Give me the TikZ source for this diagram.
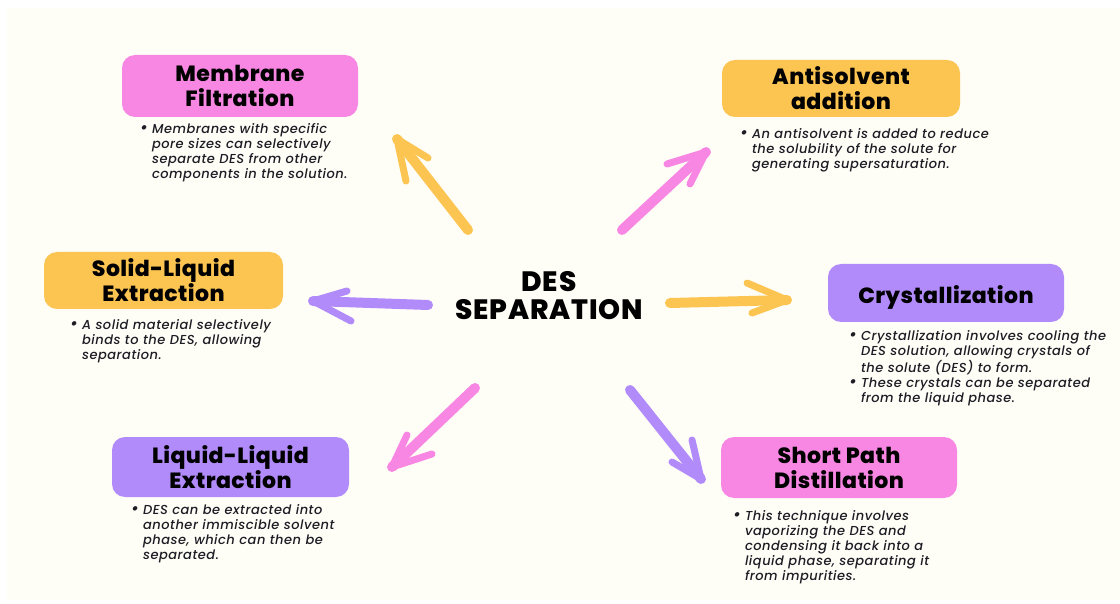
\documentclass[tikz,border=0pt]{standalone}
\usepackage{fontspec}
\setmainfont{Poppins}
\newfontfamily\titlefont{Poppins ExtraBold}[LetterSpace=2]
\newfontfamily\centerfont{Poppins ExtraBold}[LetterSpace=3]
\newfontfamily\bodyfont{Poppins Medium Italic}[LetterSpace=4]
\definecolor{bgc}{HTML}{FEFDF6}
\definecolor{pinkc}{HTML}{F887E4}
\definecolor{yellowc}{HTML}{FCC552}
\definecolor{purplec}{HTML}{B28BFB}
\definecolor{txtc}{HTML}{1C1C24}
\newcommand{\bodyset}{\bodyfont\fontsize{13}{15}\selectfont}
\newcommand{\bul}{{\fontsize{17}{15}\selectfont\textbullet}}
\begin{document}
\begin{tikzpicture}[x=1pt,y=-1pt,
  titlebox/.style={rounded corners=13pt, inner sep=0pt, align=center,
    font=\titlefont\fontsize{22}{25}\selectfont, text=black},
  bodytext/.style={anchor=base west, inner sep=0pt, text=txtc, font=\bodyset},
  shaft/.style={line width=10pt, line cap=round, line join=round},
  wing/.style={line width=7pt, line cap=round, line join=round}]
\useasboundingbox (0,0) rectangle (1120,604);
\fill[white] (0,0) rectangle (1120,604);
\fill[bgc] (7,8) rectangle (1120,600);

% boxes
\node[titlebox, fill=pinkc, minimum width=236pt, minimum height=62pt] (mf) at (240,86) {Membrane\\Filtration};
\node[titlebox, fill=yellowc, minimum width=238pt, minimum height=57pt] (aa) at (841,88.5) {Antisolvent\\addition};
\node[titlebox, fill=yellowc, minimum width=239pt, minimum height=57pt] (sl) at (163.5,280.5) {Solid-Liquid\\Extraction};
\node[titlebox, fill=purplec, minimum width=236pt, minimum height=58pt, text depth=0pt] (cr) at (946,293) {\raisebox{-3pt}{Crystallization}};
\node[titlebox, fill=purplec, minimum width=237pt, minimum height=60pt] (ll) at (230.5,467) {Liquid-Liquid\\Extraction};
\node[titlebox, fill=pinkc, minimum width=236pt, minimum height=61pt] (sp) at (839,467.5) {Short Path\\Distillation};

% center
\node[inner sep=0pt, align=center, font=\centerfont\fontsize{28}{28}\selectfont] (des) at (549,296) {DES\\SEPARATION};

% body texts
\node[bodytext] (mft) at (140,134) {\begin{tabular}[t]{@{}l@{\hspace{4pt}}l@{}}
\bul & Membranes with specific\\ & pore sizes can selectively\\ & separate DES from other\\ & components in the solution.\end{tabular}};
\node[bodytext] (aat) at (740,139) {\begin{tabular}[t]{@{}l@{\hspace{4pt}}l@{}}
\bul & An antisolvent is added to reduce\\ & the solubility of the solute for\\ & generating supersaturation.\end{tabular}};
\node[bodytext] (slt) at (70,330) {\begin{tabular}[t]{@{}l@{\hspace{4pt}}l@{}}
\bul & A solid material selectively\\ & binds to the DES, allowing\\ & separation.\end{tabular}};
\node[bodytext] (crt) at (849,341) {\begin{tabular}[t]{@{}l@{\hspace{4pt}}l@{}}
\bul & Crystallization involves cooling the\\ & DES solution, allowing crystals of\\ & the solute (DES) to form.\\
\bul & These crystals can be separated\\ & from the liquid phase.\end{tabular}};
\node[bodytext] (llt) at (131,514) {\begin{tabular}[t]{@{}l@{\hspace{4pt}}l@{}}
\bul & DES can be extracted into\\ & another immiscible solvent\\ & phase, which can then be\\ & separated.\end{tabular}};
\node[bodytext] (spt) at (733,520) {\begin{tabular}[t]{@{}l@{\hspace{4pt}}l@{}}
\bul & This technique involves\\ & vaporizing the DES and\\ & condensing it back into a\\ & liquid phase, separating it\\ & from impurities.\end{tabular}};

% arrow coordinates
\coordinate (a1t) at (468,230); \coordinate (a1h) at (397,139);
\coordinate (a1w1) at (406,181); \coordinate (a1w2) at (428,158);
\coordinate (a2t) at (622,230); \coordinate (a2h) at (706,152);
\coordinate (a2w1) at (667,164); \coordinate (a2w2) at (690,184);
\coordinate (a3t) at (428,305); \coordinate (a3h) at (313,301);
\coordinate (a3w1) at (347,291); \coordinate (a3w2) at (351,321);
\coordinate (a4t) at (670,303); \coordinate (a4h) at (787,300);
\coordinate (a4w1) at (747,283); \coordinate (a4w2) at (752,313);
\coordinate (a5t) at (475,388); \coordinate (a5h) at (392,467);
\coordinate (a5w1) at (407,435); \coordinate (a5w2) at (432,454);
\coordinate (a6t) at (630,390); \coordinate (a6h) at (701,479);
\coordinate (a6w1) at (692,440); \coordinate (a6w2) at (672,462);

\draw[shaft, yellowc] (a1t) -- (a1h);
\draw[wing, yellowc] (a1w1) -- (a1h) -- (a1w2);
\draw[shaft, pinkc] (a2t) -- (a2h);
\draw[wing, pinkc] (a2w1) -- (a2h) -- (a2w2);
\draw[shaft, purplec] (a3t) -- (a3h);
\draw[wing, purplec] (a3w1) -- (a3h) -- (a3w2);
\draw[shaft, yellowc] (a4t) -- (a4h);
\draw[wing, yellowc] (a4w1) -- (a4h) -- (a4w2);
\draw[shaft, pinkc] (a5t) -- (a5h);
\draw[wing, pinkc] (a5w1) -- (a5h) -- (a5w2);
\draw[shaft, purplec] (a6t) -- (a6h);
\draw[wing, purplec] (a6w1) -- (a6h) -- (a6w2);
\end{tikzpicture}
\end{document}
